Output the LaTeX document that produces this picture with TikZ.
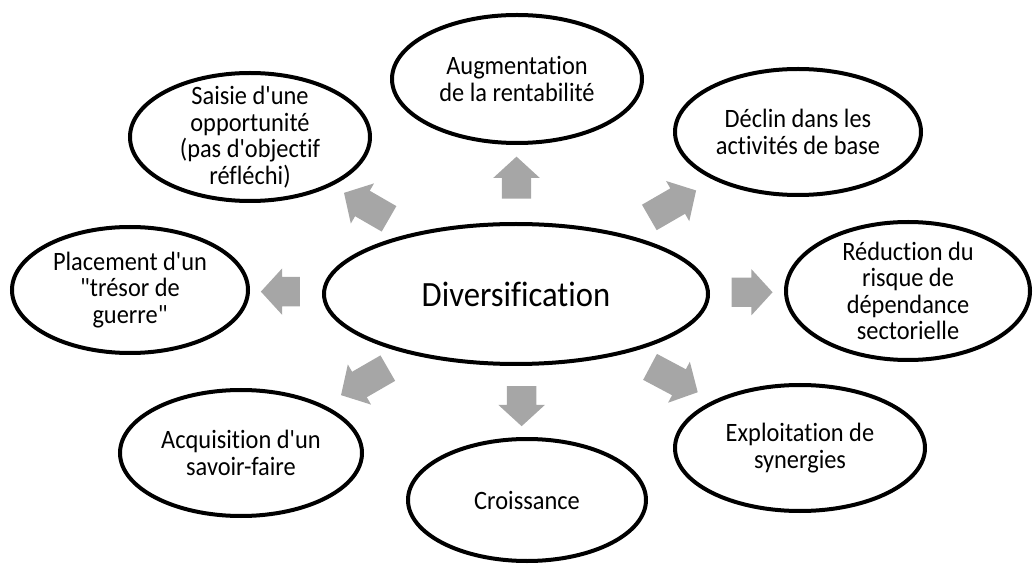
\documentclass[tikz,border=0pt]{standalone}
\usepackage{fontspec}
\setmainfont{Carlito}[Ligatures={TeXOff,NoCommon}, FakeStretch=0.92]
\usetikzlibrary{shapes.geometric,shapes.arrows,calc}

\definecolor{arrowgray}{RGB}{166,166,166}

\tikzset{
  bubble/.style={draw, ellipse, line width=4pt, inner sep=0pt},
  bubbletext/.style={align=center, font=\fontsize{26.5}{26.5}\selectfont},
  blockarrow/.style={single arrow, fill=arrowgray, inner xsep=0pt, inner ysep=14.5pt,
    minimum width=46pt, single arrow head extend=8.5pt,
    single arrow tip angle=95},
}

\begin{document}
\begin{tikzpicture}[x=1pt,y=1pt]
    \useasboundingbox (0,0) rectangle (1034,563);
    % centre
    \node[bubble, minimum width=384, minimum height=140,
          font=\fontsize{35.5}{40}\selectfont] (div) at (516,269) {Diversification};
    % outer ellipses
    \node[bubble, minimum width=250, minimum height=128,
          label={[bubbletext]center:Augmentation\\de la rentabilité}] (aug) at (517,484) {};
    \node[bubble, minimum width=246, minimum height=126,
          label={[bubbletext]center:Déclin dans les\\activités de base}] (dec) at (798,431) {};
    \node[bubble, minimum width=244, minimum height=138,
          label={[bubbletext]center:Réduction du\\risque de\\dépendance\\sectorielle}] (red) at (908,272) {};
    \node[bubble, minimum width=250, minimum height=126,
          label={[bubbletext]center:Exploitation de\\synergies}] (exp) at (800,115) {};
    \node[bubble, minimum width=238, minimum height=122,
          label={[bubbletext]center:Croissance}] (cro) at (527,63) {};
    \node[bubble, minimum width=242, minimum height=126,
          label={[bubbletext]center:Acquisition d'un\\savoir-faire}] (acq) at (241,110) {};
    \node[bubble, minimum width=236, minimum height=126,
          label={[bubbletext]center:Placement d'un\\"trésor de\\guerre"}] (pla) at (130,273) {};
    \node[bubble, minimum width=240, minimum height=128,
          label={[bubbletext]center:Saisie d'une\\opportunité\\(pas d'objectif\\réfléchi)}] (sai) at (250,426) {};
    % arrows from the centre
    \foreach \tgt/\f/\a/\l in {aug/0.51/90/42, dec/0.535/30/54, red/0.585/0/41,
        exp/0.535/-28/54, cro/0.512/-90/40, acq/0.53/210/54,
        pla/0.593/180/39, sai/0.54/150/52}
        \node[blockarrow, minimum height=\l, rotate=\a] (arr-\tgt) at ($(div)!\f!(\tgt)$) {};
\end{tikzpicture}
\end{document}
